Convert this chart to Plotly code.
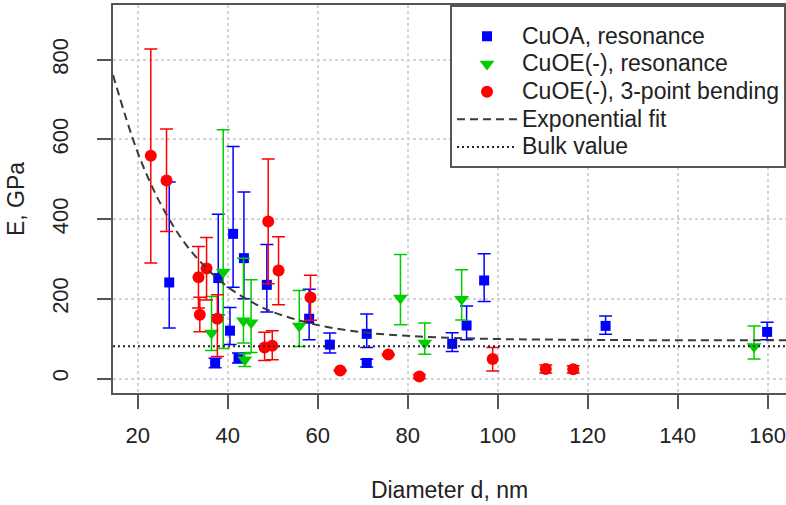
import plotly.graph_objects as go

# CuOA, resonance
cuoa_d = [27.0, 37.2, 37.9, 40.5, 41.2, 42.4, 43.6, 48.7, 58.1, 62.7, 70.9, 70.9, 89.9, 93.1, 97.0, 124.0, 159.9]
cuoa_E = [241, 39, 252, 120, 363, 51, 302, 235, 150, 85, 39, 112, 87, 133, 246, 132, 117]
cuoa_top = [493, 51, 412, 178, 582, 64, 468, 336, 224, 114, 48, 162, 115, 182, 313, 157, 141]
cuoa_bot = [127, 27, 160, 85, 229, 39, 200, 167, 97, 64, 29, 78, 68, 97, 193, 111, 97]

# CuOE(-), resonance
cuoe_d = [36.4, 39.0, 43.5, 43.8, 45.2, 55.9, 78.4, 83.8, 92.0, 157.0]
cuoe_E = [114, 267, 145, 47, 140, 132, 202, 89, 199, 80]
cuoe_top = [206, 624, 302, 62, 248, 221, 311, 139, 273, 132]
cuoe_bot = [70, 75, 89, 30, 65, 80, 135, 61, 147, 49]

# CuOE(-), 3-point bending
bend_d = [22.9, 26.4, 33.5, 33.8, 35.3, 37.7, 48.2, 49.0, 49.9, 51.3, 58.4, 65.0, 75.7, 82.6, 98.9, 110.7, 116.8]
bend_E = [559, 497, 254, 160, 276, 150, 78, 394, 82, 271, 203, 20, 60, 5, 49, 24, 23]
bend_top = [827, 626, 331, 204, 354, 210, 116, 551, 120, 356, 259, 22, 62, 10, 78, 34, 32]
bend_bot = [290, 369, 177, 117, 197, 55, 45, 238, 47, 185, 146, 18, 58, 0, 19, 14, 14]

# Exponential fit
fit_d = [14.5, 20, 25, 30, 35, 40, 45, 50, 60, 70, 80, 90, 100, 120, 140, 164.1]
fit_E = [762, 567, 440, 347, 280, 230, 194, 167, 134, 116, 107, 102, 99, 97, 96, 96]

# Bulk value
bulk_d = [14.5, 164.1]
bulk_E = [81, 81]

x_ticks = [20, 40, 60, 80, 100, 120, 140, 160]
y_ticks = [0, 200, 400, 600, 800]

FONT = "Liberation Sans, Arial, Helvetica, sans-serif"
AXC = "#555555"
TXT = "#222222"

def errs(E, top, bot):
    return [t - e for t, e in zip(top, E)], [e - b for e, b in zip(E, bot)]

def legend_label(s):
    return '<span style="font-size:23px">' + s + '</span>'

fig = go.Figure()

for name, d, E, top, bot, col, sym, sz in [
    ("CuOA, resonance", cuoa_d, cuoa_E, cuoa_top, cuoa_bot, "#0000FF", "square", 10),
    ("CuOE(-), resonance", cuoe_d, cuoe_E, cuoe_top, cuoe_bot, "#00CD00", "triangle-down", 13),
    ("CuOE(-), 3-point bending", bend_d, bend_E, bend_top, bend_bot, "#FF0000", "circle", 12),
]:
    up, dn = errs(E, top, bot)
    fig.add_trace(go.Scatter(
        x=d, y=E, mode="markers", name=legend_label(name),
        marker=dict(symbol=sym, size=sz, color=col, line=dict(width=0)),
        error_y=dict(type="data", symmetric=False, array=up, arrayminus=dn,
                     color=col, thickness=1.5, width=6.5),
    ))

fig.add_trace(go.Scatter(
    x=fit_d, y=fit_E, mode="lines", name=legend_label("Exponential fit"),
    line=dict(color="#3a3a3a", width=2, dash="8px,5px", shape="spline"),
))
fig.add_trace(go.Scatter(
    x=bulk_d, y=bulk_E, mode="lines", name=legend_label("Bulk value"),
    line=dict(color="#222222", width=2, dash="2px,3px"),
))

fig.update_layout(
    width=786, height=505,
    margin=dict(l=113, r=0, t=5, b=112, autoexpand=False),
    paper_bgcolor="white", plot_bgcolor="white",
    font=dict(family=FONT, size=22, color=TXT),
    showlegend=True,
    legend=dict(
        x=1, xanchor="right", y=1, yanchor="top",
        bgcolor="white", bordercolor=AXC, borderwidth=2,
        font=dict(size=19, color=TXT),
        itemwidth=60, tracegroupgap=0,
        title=dict(text=" ", font=dict(size=8)),
    ),
    xaxis=dict(
        range=[14.5, 164.1], tickvals=x_ticks, ticktext=[str(v) for v in x_ticks],
        showgrid=True, gridcolor="#d3d3d3", griddash="dot", gridwidth=1.5,
        zeroline=False, showline=True, linecolor=AXC, linewidth=2, mirror=True,
        ticks="outside", ticklen=14, tickwidth=2, tickcolor=AXC,
        ticklabelstandoff=8, automargin=False,
        title=dict(text="Diameter d, nm", standoff=34, font=dict(size=23)),
    ),
    yaxis=dict(
        range=[-36.4, 937.3], tickvals=y_ticks, ticktext=[str(v) for v in y_ticks],
        tickangle=-90,
        showgrid=True, gridcolor="#d3d3d3", griddash="dot", gridwidth=1.5,
        zeroline=False, showline=True, linecolor=AXC, linewidth=2, mirror=False,
        ticks="outside", ticklen=14, tickwidth=2, tickcolor=AXC,
        ticklabelstandoff=20, automargin=False,
        title=dict(text="E, GPa", standoff=17, font=dict(size=23)),
    ),
)

fig.write_html("out.html", config={"displayModeBar": False},
               post_script="document.body.style.margin='0';")
